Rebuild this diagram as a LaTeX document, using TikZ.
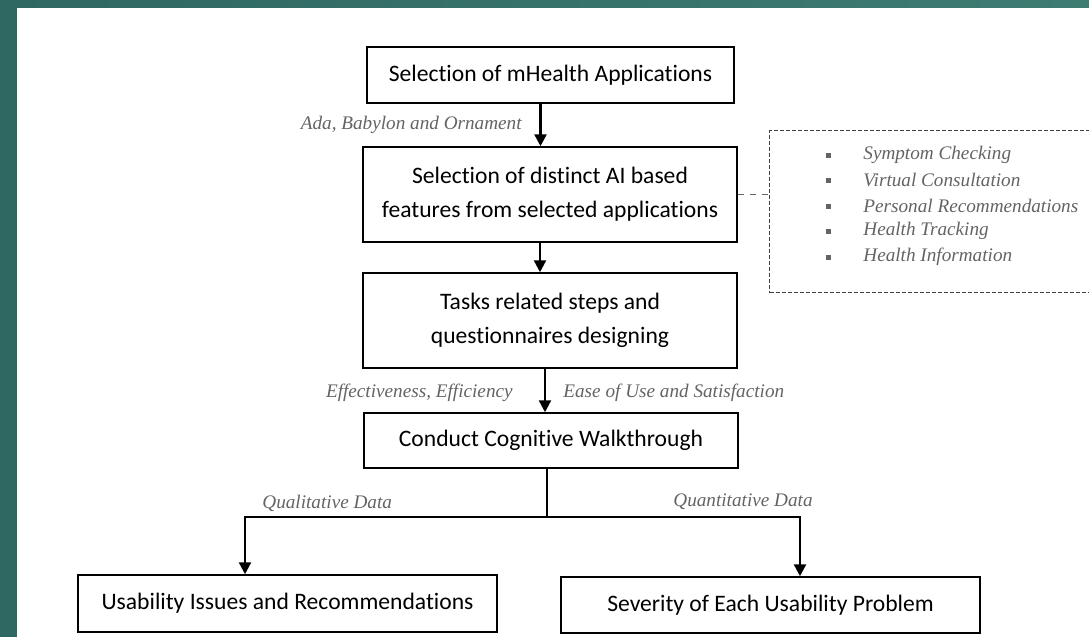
\documentclass[tikz,border=0pt]{standalone}
\usepackage{fontspec}
\setmainfont{Carlito}[Ligatures=NoCommon]
\newfontfamily\notefont{Liberation Serif}
\usetikzlibrary{arrows.meta}
\definecolor{tealleft}{HTML}{2F6762}
\definecolor{tealright}{HTML}{3E7C72}
\definecolor{notegray}{HTML}{646464}

\begin{document}
\begin{tikzpicture}[x=0.5pt, y=-0.5pt, >={Triangle[length=6pt,width=6pt]},
  box/.style={draw, line width=0.75pt, inner sep=0pt, align=center, font=\fontsize{11.8}{17}\selectfont},
  note/.style={inner sep=0pt, text=notegray, font=\notefont\itshape\fontsize{9.6}{11}\selectfont},
  flow/.style={->, line width=1.2pt}]
\path[use as bounding box] (0,0) rectangle (1089,637);
\clip (0,0) rectangle (1089,637);
\shade[left color=tealleft, right color=tealright] (0,0) rectangle (1089,637);
\fill[white] (17,8) rectangle (1089,637);

\def\bw{187pt}

\node[box, minimum width=183.5pt, minimum height=28pt] (apps) at (550.5,75) {Selection of mHealth Applications};
\node[box, minimum width=\bw, minimum height=47.5pt] (feat) at (550,194.5) {Selection of distinct AI based\\features from selected applications};
\node[box, minimum width=\bw, minimum height=47.5pt] (tasks) at (550,320.5) {Tasks related steps and\\questionnaires designing};
\node[box, minimum width=\bw, minimum height=27.5pt] (walk) at (551,440.5) {Conduct Cognitive Walkthrough};
\node[box, minimum width=209.5pt, minimum height=28.5pt] (issues) at (287.5,603.5) {Usability Issues and Recommendations};
\node[box, minimum width=209.5pt, minimum height=28pt] (sev) at (770.5,605) {Severity of Each Usability Problem};

\draw[flow] ([xshift=-5pt]apps.south) -- ([xshift=-5pt]apps.south |- feat.north);
\draw[flow] ([xshift=-5pt]feat.south) -- ([xshift=-5pt]feat.south |- tasks.north);
\draw[flow] ([xshift=-2.5pt]tasks.south) -- ([xshift=-2.5pt]tasks.south |- walk.north);

\coordinate (split) at ([xshift=-2pt]walk.south |- 0,517);
\draw[line width=1.2pt] ([xshift=-2pt]walk.south) -- (split);
\draw[flow] (split) -| ([xshift=-21.25pt]issues.north);
\draw[flow] (split) -| ([xshift=14.75pt]sev.north);

\node[note, anchor=east] (apps lbl) at (522,125) {Ada, Babylon and Ornament};
\node[note, anchor=east] (eff lbl) at (513,393) {Effectiveness, Efficiency};
\node[note, anchor=west] (ease lbl) at (563,393) {Ease of Use and Satisfaction};
\node[note, anchor=west] (qual lbl) at (262,503) {Qualitative Data};
\node[note, anchor=west] (quant lbl) at (673,502) {Quantitative Data};

\node[draw=black!75, dash pattern=on 2pt off 1pt, line width=0.6pt, minimum width=170pt, minimum height=81pt, anchor=north west] (list) at (769,130) {};
\draw[notegray, dashed, line width=0.8pt] (feat.east) -- (list.west |- feat.east);

\foreach \y/\t [count=\i] in {155/Symptom Checking, 180/Virtual Consultation, 206/Personal Recommendations, 231/Health Tracking, 257/Health Information} {
  \fill[notegray] (826,\y-2) rectangle +(5,5);
  \node[note, anchor=west] (item\i) at (863,\y) {\t};
}
\end{tikzpicture}
\end{document}
